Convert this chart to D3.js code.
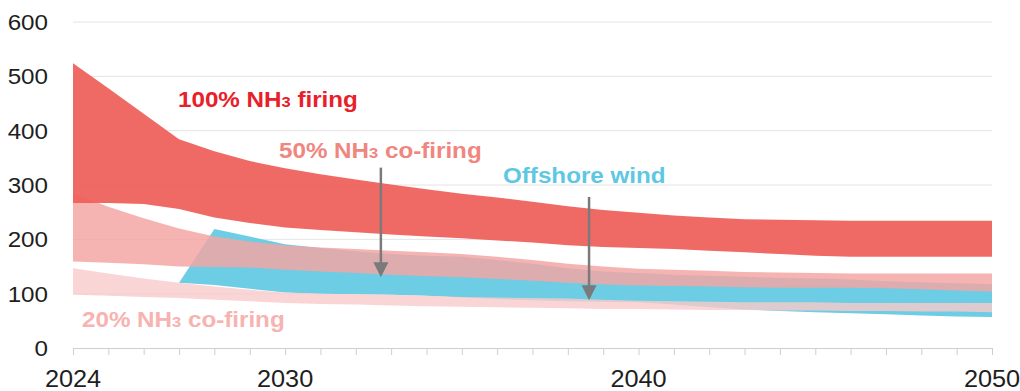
<!DOCTYPE html>
<html>
<head>
<meta charset="utf-8">
<script src="https://cdn.jsdelivr.net/npm/d3@7/dist/d3.min.js"></script>
<style>
body { margin: 0; background: #fff; }
svg { display: block; font-family: "Liberation Sans", Arial, sans-serif; }
</style>
</head>
<body>
<script>
// years on the x axis
var years = d3.range(2024, 2051);
var windYears = d3.range(2027, 2051);

// 100% NH3 firing band
var hi100 = [524, 478, 431, 384, 362, 344, 331, 320, 310, 301, 292, 284, 277, 269, 261, 254, 249, 244, 240, 237, 236, 235, 234, 234, 234, 234, 234];
var lo100 = [267, 267, 265, 256, 240, 230, 222, 217, 213, 209, 205, 202, 198, 194, 189, 186, 184, 182, 179, 176, 173, 170, 168, 168, 168, 168, 168];
// 50% NH3 co-firing band
var hi50 = [285, 260, 239, 220, 205, 196, 189, 185, 182, 179, 176, 173, 168, 162, 155, 150, 146, 144, 142, 140, 139, 138, 137, 137, 137, 137, 137];
var lo50 = [159, 157, 154, 150, 149, 148, 144, 141, 138, 135, 132, 130, 127, 124, 120, 117, 115, 114, 113, 112, 111, 111, 111, 110, 108, 106, 104];
// 20% NH3 co-firing band
var hi20 = [147, 137, 128, 120, 113, 107, 102, 100, 99, 98, 96, 94, 93, 92, 91, 89, 87, 86, 85, 84, 84, 84, 83, 83, 83, 83, 83];
var lo20 = [98, 96, 94, 92, 89, 86, 83, 81, 80, 78, 77, 76, 75, 74, 73, 72, 72, 71, 70, 70, 69, 69, 68, 68, 67, 67, 66];
// offshore wind band (from 2027)
var windHi = [120, 219, 205, 191, 184, 178, 173, 170, 168, 162, 155, 147, 141, 138, 135, 133, 131, 129, 128, 126, 123, 121, 119, 118];
var windLo = [120, 116, 109, 102, 100, 99, 98, 96, 93, 90, 88, 86, 85, 84, 80, 75, 71, 68, 66, 64, 62, 60, 58, 57];

var yTicks = [0, 100, 200, 300, 400, 500, 600];
var xTickLabels = [2024, 2030, 2040, 2050];

var W = 1020, H = 391;
var x = d3.scaleLinear().domain([2024, 2050]).range([73, 992]);
var y = d3.scaleLinear().domain([0, 600]).range([348, 22]);

var svg = d3.select("body").append("svg")
    .attr("width", W)
    .attr("height", H);

// gridlines
svg.append("g").selectAll("line")
    .data(yTicks.slice(1))
  .enter().append("line")
    .attr("x1", x(2024)).attr("x2", x(2050))
    .attr("y1", function(d) { return y(d); })
    .attr("y2", function(d) { return y(d); })
    .attr("stroke", "#e4e4e4")
    .attr("stroke-width", 1);

function band(xs, hi, lo) {
    return xs.map(function(yr, i) { return {year: yr, hi: hi[i], lo: lo[i]}; });
}

var area = d3.area()
    .x(function(d) { return x(d.year); })
    .y0(function(d) { return y(d.lo); })
    .y1(function(d) { return y(d.hi); });

var bands = [
    {data: band(windYears, windHi, windLo), fill: "#6dcde4", op: 1},
    {data: band(years, hi20, lo20), fill: "#f9caca", op: 0.8},
    {data: band(years, hi50, lo50), fill: "#f3a5a2", op: 0.83},
    {data: band(years, hi100, lo100), fill: "#ef5f59", op: 0.93}
];

svg.append("g").selectAll("path")
    .data(bands)
  .enter().append("path")
    .attr("d", function(d) { return area(d.data); })
    .attr("fill", function(d) { return d.fill; })
    .attr("fill-opacity", function(d) { return d.op; });

// baseline with yearly ticks
var xAxis = d3.axisBottom(x)
    .tickValues(years)
    .tickSize(7)
    .tickFormat("");
var gx = svg.append("g")
    .attr("transform", "translate(0," + y(0) + ")")
    .call(xAxis);
gx.selectAll("path, line").attr("stroke", "#cfcfcf").attr("stroke-width", 1);

// x labels
svg.append("g").selectAll("g")
    .data(xTickLabels)
  .enter().append("g")
    .attr("transform", function(d) { return "translate(" + x(d) + ",387)"; })
  .append("text")
    .attr("transform", "scale(1.1,1)")
    .attr("text-anchor", "middle")
    .attr("font-size", 23)
    .attr("fill", "#1e1e1e")
    .text(function(d) { return d; });

// y labels
svg.append("g").selectAll("g")
    .data(yTicks)
  .enter().append("g")
    .attr("transform", function(d) { return "translate(48," + (y(d) + 8) + ")"; })
  .append("text")
    .attr("transform", "scale(1.1,1)")
    .attr("text-anchor", "end")
    .attr("font-size", 22)
    .attr("fill", "#1e1e1e")
    .text(function(d) { return d; });

// arrows
var arrows = [
    {year: 2032.71, from: 332, to: 130},
    {year: 2038.6, from: 278, to: 88}
];
var ga = svg.append("g").selectAll("g")
    .data(arrows)
  .enter().append("g");
ga.append("line")
    .attr("x1", function(d) { return x(d.year); })
    .attr("x2", function(d) { return x(d.year); })
    .attr("y1", function(d) { return y(d.from); })
    .attr("y2", function(d) { return y(d.to) - 10; })
    .attr("stroke", "#7a7a7a")
    .attr("stroke-width", 2.5);
ga.append("path")
    .attr("d", function(d) {
        var px = x(d.year), py = y(d.to);
        return "M" + (px - 7.5) + "," + (py - 15) + "L" + (px + 7.5) + "," + (py - 15) + "L" + px + "," + py + "Z";
    })
    .attr("fill", "#7a7a7a");

// series labels
var labels = [
    {x: 178, y: 107, head: "100% NH", tail: " firing", color: "#e8202a"},
    {x: 279, y: 158, head: "50% NH", tail: " co-firing", color: "#f08680"},
    {x: 503, y: 183, head: "Offshore wind", tail: null, color: "#5ec8e2"},
    {x: 82, y: 327, head: "20% NH", tail: " co-firing", color: "#f6b3b0"}
];
var gl = svg.append("g").selectAll("g")
    .data(labels)
  .enter().append("g")
    .attr("transform", function(d) { return "translate(" + d.x + "," + d.y + ")"; });
var tl = gl.append("text")
    .attr("transform", "scale(1.1,1)")
    .attr("font-size", 22)
    .attr("font-weight", "bold")
    .attr("fill", function(d) { return d.color; });
tl.append("tspan").text(function(d) { return d.head; });
tl.filter(function(d) { return d.tail; }).append("tspan")
    .attr("font-size", 15)
    .text("3");
tl.filter(function(d) { return d.tail; }).append("tspan")
    .text(function(d) { return d.tail; });
</script>
</body>
</html>
